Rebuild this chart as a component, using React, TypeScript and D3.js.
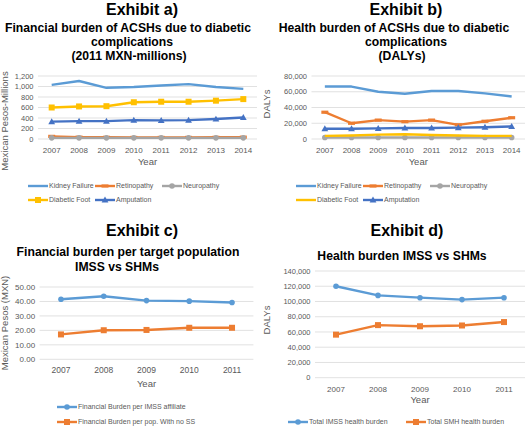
import React from "react";
import * as d3 from "d3";

// ---------- DATA ----------
const yearsAB = ["2007", "2008", "2009", "2010", "2011", "2012", "2013", "2014"];
const yearsCD = ["2007", "2008", "2009", "2010", "2011"];

// Exhibit a) Financial burden (2011 MXN-millions)
const aKidney = [1030, 1105, 975, 990, 1020, 1045, 990, 955];
const aRetino = [50, 35, 32, 30, 30, 30, 32, 35];
const aNeuro = [22, 22, 22, 22, 22, 22, 22, 22];
const aFoot = [600, 620, 625, 700, 710, 710, 730, 760];
const aAmput = [330, 340, 340, 360, 355, 360, 380, 410];
const aTicks = [0, 200, 400, 600, 800, 1000, 1200];

// Exhibit b) Health burden (DALYs)
const bKidney = [66600, 66600, 60000, 57500, 61000, 61000, 58000, 54000];
const bRetino = [34000, 20000, 24000, 22000, 24000, 18000, 22500, 27000];
const bNeuro = [2000, 2000, 2000, 2000, 2000, 2000, 2000, 2000];
const bFoot = [4000, 4500, 5500, 6000, 5000, 4500, 4000, 4000];
const bAmput = [13000, 13000, 13500, 14000, 14000, 14500, 15000, 16000];
const bTicks = [0, 20000, 40000, 60000, 80000];

// Exhibit c) Financial burden per target population
const cIMSS = [41.5, 43.6, 40.6, 40.2, 39.3];
const cSHM = [17.2, 20.1, 20.3, 21.8, 21.8];
const cTicks = [0, 10, 20, 30, 40, 50];

// Exhibit d) Health burden IMSS vs SHMs
const dIMSS = [120000, 108000, 105000, 102500, 105000];
const dSHM = [56500, 69000, 67500, 68500, 73000];
const dTicks = [0, 20000, 40000, 60000, 80000, 100000, 120000, 140000];

// ---------- STYLE ----------
const C_LBLUE = "#5B9BD5";
const C_ORANGE = "#ED7D31";
const C_GRAY = "#A5A5A5";
const C_YELLOW = "#FFC000";
const C_DBLUE = "#4472C4";
const FONT = "'Liberation Sans', Arial, Helvetica, sans-serif";
const TXT = "#595959";

type Marker = "none" | "dash" | "circle" | "square" | "triangle";
type Series = { name: string; values: number[]; color: string; marker: Marker };

function MarkerShape({ x, y, m, color, s = 1 }: { x: number; y: number; m: Marker; color: string; s?: number }) {
  if (m === "circle") return <circle cx={x} cy={y} r={2.8 * s} fill={color} />;
  if (m === "square") return <rect x={x - 3 * s} y={y - 3 * s} width={6 * s} height={6 * s} fill={color} />;
  if (m === "triangle") {
    const r = 3.4 * s;
    return <path d={`M${x},${y - r} L${x + r},${y + r * 0.75} L${x - r},${y + r * 0.75} Z`} fill={color} />;
  }
  if (m === "dash") return <rect x={x - 3.5 * s} y={y - 1.6 * s} width={7 * s} height={3.2 * s} fill={color} />;
  return null;
}

type PanelProps = {
  cats: string[];
  series: Series[];
  ticks: number[];
  x0: number;
  x1: number;
  y0: number;
  y1: number;
  fmt: (v: number) => string;
  tickFont: number;
  xLabelY: number;
  yearY: number;
  yTitle: string;
  yTitleX: number;
  yTitleY: number;
  exhibit: string;
  exhibitX: number;
  exhibitY: number;
  subtitle: { text: string; x: number; y: number }[];
  legend: { s: number; x: number; y: number }[];
};

function Panel(p: PanelProps) {
  const x = d3.scalePoint<string>().domain(p.cats).range([p.x0, p.x1]).padding(0.5);
  const y = d3.scaleLinear().domain([0, p.ticks[p.ticks.length - 1]]).range([p.y0, p.y1]);
  const line = d3
    .line<number>()
    .x((_, i) => x(p.cats[i]) as number)
    .y((v) => y(v));
  const midX = (p.x0 + p.x1) / 2;
  return (
    <g>
      <text x={p.exhibitX} y={p.exhibitY} textAnchor="middle" fontSize={16} fontWeight="bold" fill="#000" fontFamily={FONT}>
        {p.exhibit}
      </text>
      {p.subtitle.map((s, i) => (
        <text key={i} x={s.x} y={s.y} textAnchor="middle" fontSize={12.2} fontWeight="bold" fill="#000" fontFamily={FONT}>
          {s.text}
        </text>
      ))}
      {p.ticks.map((t) => (
        <g key={t}>
          <line x1={p.x0} x2={p.x1} y1={y(t)} y2={y(t)} stroke="#D9D9D9" strokeWidth={0.8} />
          <text x={p.x0 - 4.5} y={y(t)} dy="0.35em" textAnchor="end" fontSize={p.tickFont} fill={TXT} fontFamily={FONT}>
            {p.fmt(t)}
          </text>
        </g>
      ))}
      {p.cats.map((c) => (
        <text key={c} x={x(c)} y={p.xLabelY} textAnchor="middle" fontSize={p.tickFont + 0.5} fill={TXT} fontFamily={FONT}>
          {c}
        </text>
      ))}
      <text x={midX} y={p.yearY} textAnchor="middle" fontSize={9.5} fill={TXT} fontFamily={FONT}>
        Year
      </text>
      <text
        transform={`translate(${p.yTitleX},${p.yTitleY}) rotate(-90)`}
        textAnchor="middle"
        fontSize={9.5}
        fill={TXT}
        fontFamily={FONT}
      >
        {p.yTitle}
      </text>
      {p.series.map((s) => (
        <g key={s.name}>
          <path d={line(s.values) || ""} fill="none" stroke={s.color} strokeWidth={2.4} strokeLinejoin="round" />
          {s.values.map((v, i) => (
            <MarkerShape key={i} x={x(p.cats[i]) as number} y={y(v)} m={s.marker} color={s.color} />
          ))}
        </g>
      ))}
      {p.legend.map((l, i) => {
        const s = p.series[l.s];
        return (
          <g key={i}>
            <line x1={l.x} x2={l.x + 20} y1={l.y} y2={l.y} stroke={s.color} strokeWidth={2.4} />
            <MarkerShape x={l.x + 10} y={l.y} m={s.marker} color={s.color} />
            <text x={l.x + 21} y={l.y} dy="0.35em" fontSize={7} fill={TXT} fontFamily={FONT}>
              {s.name}
            </text>
          </g>
        );
      })}
    </g>
  );
}

const fmtInt = d3.format(",");
const fmt2 = d3.format(".2f");

export default function App() {
  const seriesA: Series[] = [
    { name: "Kidney Failure", values: aKidney, color: C_LBLUE, marker: "none" },
    { name: "Retinopathy", values: aRetino, color: C_ORANGE, marker: "dash" },
    { name: "Neuropathy", values: aNeuro, color: C_GRAY, marker: "circle" },
    { name: "Diabetic Foot", values: aFoot, color: C_YELLOW, marker: "square" },
    { name: "Amputation", values: aAmput, color: C_DBLUE, marker: "triangle" },
  ];
  const seriesB: Series[] = [
    { name: "Kidney Failure", values: bKidney, color: C_LBLUE, marker: "none" },
    { name: "Retinopathy", values: bRetino, color: C_ORANGE, marker: "dash" },
    { name: "Neuropathy", values: bNeuro, color: C_GRAY, marker: "circle" },
    { name: "Diabetic Foot", values: bFoot, color: C_YELLOW, marker: "none" },
    { name: "Amputation", values: bAmput, color: C_DBLUE, marker: "triangle" },
  ];
  const seriesC: Series[] = [
    { name: "Financial Burden per IMSS affiliate", values: cIMSS, color: C_LBLUE, marker: "circle" },
    { name: "Financial Burden per pop. With no SS", values: cSHM, color: C_ORANGE, marker: "square" },
  ];
  const seriesD: Series[] = [
    { name: "Total IMSS health burden", values: dIMSS, color: C_LBLUE, marker: "circle" },
    { name: "Total SMH health burden", values: dSHM, color: C_ORANGE, marker: "square" },
  ];
  const legAB = (ox: number) => [
    { s: 0, x: ox, y: 186 },
    { s: 1, x: ox + 67, y: 186 },
    { s: 2, x: ox + 134, y: 186 },
    { s: 3, x: ox, y: 200 },
    { s: 4, x: ox + 67, y: 200 },
  ];
  return (
    <svg width={526} height={427} style={{ position: "absolute", left: 0, top: 0, background: "#fff" }}>
      <rect width={526} height={427} fill="#fff" />
      <Panel
        cats={yearsAB}
        series={seriesA}
        ticks={aTicks}
        x0={38}
        x1={257}
        y0={139}
        y1={76}
        fmt={fmtInt}
        tickFont={7.5}
        xLabelY={153}
        yearY={165}
        yTitle="Mexican Pesos-Millions"
        yTitleX={8}
        yTitleY={121}
        exhibit="Exhibit a)"
        exhibitX={142}
        exhibitY={15}
        subtitle={[
          { text: "Financial burden of ACSHs due to diabetic", x: 128, y: 32 },
          { text: "complications", x: 132, y: 46 },
          { text: "(2011 MXN-millions)", x: 129, y: 60 },
        ]}
        legend={legAB(28)}
      />
      <Panel
        cats={yearsAB}
        series={seriesB}
        ticks={bTicks}
        x0={311.5}
        x1={525}
        y0={139}
        y1={76}
        fmt={fmtInt}
        tickFont={7.5}
        xLabelY={153}
        yearY={165}
        yTitle="DALYs"
        yTitleX={270}
        yTitleY={104}
        exhibit="Exhibit b)"
        exhibitX={406}
        exhibitY={15}
        subtitle={[
          { text: "Health burden of ACSHs due to diabetic", x: 394, y: 32 },
          { text: "complications", x: 406, y: 46 },
          { text: "(DALYs)", x: 402, y: 60 },
        ]}
        legend={legAB(296)}
      />
      <Panel
        cats={yearsCD}
        series={seriesC}
        ticks={cTicks}
        x0={39.6}
        x1={253.4}
        y0={359.3}
        y1={287}
        fmt={fmt2}
        tickFont={8}
        xLabelY={373}
        yearY={387}
        yTitle="Mexican Pesos (MXN)"
        yTitleX={8}
        yTitleY={323}
        exhibit="Exhibit c)"
        exhibitX={142}
        exhibitY={236}
        subtitle={[
          { text: "Financial burden per target population", x: 128, y: 256 },
          { text: "IMSS vs SHMs", x: 117, y: 271 },
        ]}
        legend={[
          { s: 0, x: 57, y: 407 },
          { s: 1, x: 57, y: 422 },
        ]}
      />
      <Panel
        cats={yearsCD}
        series={seriesD}
        ticks={dTicks}
        x0={315}
        x1={525}
        y0={377.7}
        y1={271}
        fmt={fmtInt}
        tickFont={7.5}
        xLabelY={392}
        yearY={403}
        yTitle="DALYs"
        yTitleX={270}
        yTitleY={320}
        exhibit="Exhibit d)"
        exhibitX={407}
        exhibitY={236}
        subtitle={[{ text: "Health burden IMSS vs SHMs", x: 402, y: 260 }]}
        legend={[
          { s: 0, x: 288, y: 422 },
          { s: 1, x: 406, y: 422 },
        ]}
      />
    </svg>
  );
}
